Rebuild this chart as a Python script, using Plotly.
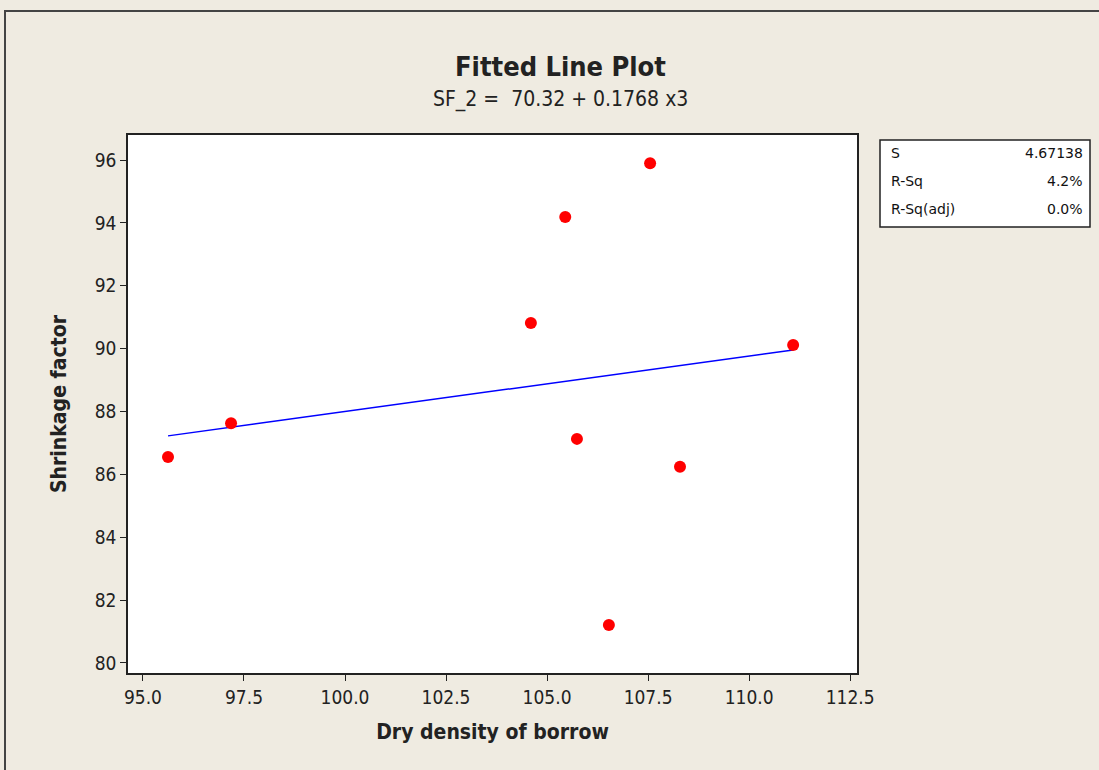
import plotly.graph_objects as go

dry_density = [95.62, 97.18, 104.60, 105.45, 105.74, 106.53, 107.55, 108.29, 111.09]
shrinkage = [86.55, 87.63, 90.82, 94.19, 87.13, 81.21, 95.90, 86.24, 90.12]
intercept = 70.32
slope = 0.1768
stat_names = ["S", "R-Sq", "R-Sq(adj)"]
stat_values = ["4.67138", "4.2%", "0.0%"]
x_ticks = [95.0, 97.5, 100.0, 102.5, 105.0, 107.5, 110.0, 112.5]
y_ticks = [80, 82, 84, 86, 88, 90, 92, 94, 96]

L, R, T, B = 128, 857, 135, 673
W, H = 1099, 770
def px(x):
    return (x - L) / (R - L)
def py(y):
    return (B - y) / (B - T)

xmin, xmax = min(dry_density), max(dry_density)
fig = go.Figure()
fig.add_trace(go.Scatter(x=[xmin, xmax], y=[intercept + slope * xmin, intercept + slope * xmax],
                         mode="lines", line=dict(color="#0000FF", width=1.5), showlegend=False))
fig.add_trace(go.Scatter(x=dry_density, y=shrinkage, mode="markers",
                         marker=dict(color="#FF0000", size=12, line=dict(width=0)), showlegend=False))

FONT = "DejaVu Sans Condensed, DejaVu Sans"
tickfont = dict(family=FONT, size=19, color="#222")
fig.update_layout(
    width=W, height=H,
    margin=dict(l=L, r=W - R, t=T, b=H - B),
    paper_bgcolor="#EFEBE1", plot_bgcolor="#FFFFFF",
    xaxis=dict(range=[94.63, 112.67], tickvals=x_ticks, ticktext=[f"{v:.1f}" for v in x_ticks],
               ticks="outside", ticklen=6, tickcolor="#222", showline=True, linecolor="#222", linewidth=1.5,
               mirror=True, showgrid=False, zeroline=False, tickfont=tickfont,
               title=dict(text="<b>Dry density of borrow</b>", font=dict(family=FONT, size=21, color="#222"), standoff=18)),
    yaxis=dict(range=[79.68, 96.8], tickvals=y_ticks, ticks="outside", ticklen=6, tickcolor="#222",
               showline=True, linecolor="#222", linewidth=1.5, mirror=True, showgrid=False, zeroline=False,
               tickfont=tickfont,
               title=dict(text="<b>Shrinkage factor</b>", font=dict(family=FONT, size=21, color="#222"), standoff=22)),
)

shapes = [
    dict(type="rect", xref="paper", yref="paper", x0=px(5), x1=px(1200), y0=py(900), y1=py(11),
         line=dict(color="#444", width=2), fillcolor="rgba(0,0,0,0)", layer="below"),
    dict(type="rect", xref="paper", yref="paper", x0=px(880), x1=px(1090), y0=py(227), y1=py(140),
         line=dict(color="#222", width=1.5), fillcolor="#FFFFFF"),
]
annotations = [
    dict(text="<b>Fitted Line Plot</b>", x=px(560), y=py(66), xref="paper", yref="paper", showarrow=False,
         xanchor="center", yanchor="middle", font=dict(family=FONT, size=27, color="#222")),
    dict(text=f"SF_2 =  {intercept:.2f} + {slope:.4f} x3", x=px(560), y=py(100), xref="paper", yref="paper",
         xanchor="center", yanchor="middle", showarrow=False, font=dict(family=FONT, size=21, color="#222")),
]
for i, (n, v) in enumerate(zip(stat_names, stat_values)):
    yy = py(153 + 28 * i)
    annotations.append(dict(text=n, x=px(889), y=yy, xref="paper", yref="paper", xanchor="left", yanchor="middle",
                            showarrow=False, font=dict(family="DejaVu Sans", size=14, color="#111")))
    annotations.append(dict(text=v, x=px(1085), y=yy, xref="paper", yref="paper", xanchor="right", yanchor="middle",
                            showarrow=False, font=dict(family="DejaVu Sans", size=14, color="#111")))
fig.update_layout(shapes=shapes, annotations=annotations)
fig.write_html("out.html", config={"displayModeBar": False},
               post_script="document.body.style.margin='0';document.body.style.overflow='hidden';")
